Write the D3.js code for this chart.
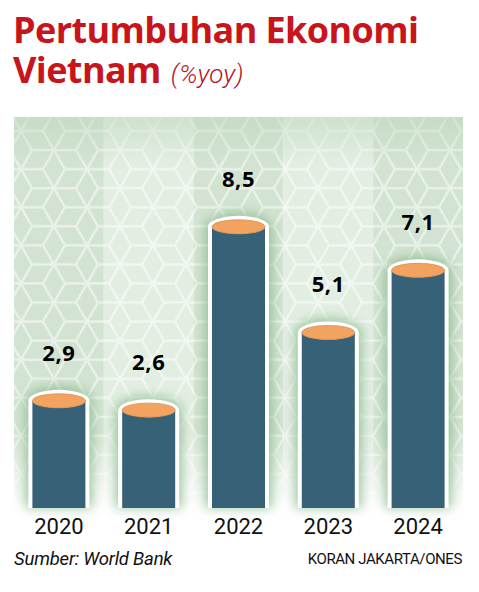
<!DOCTYPE html>
<html>
<head>
<meta charset="utf-8">
<script src="https://cdn.jsdelivr.net/npm/d3@7"></script>
<style>
  html, body { margin: 0; padding: 0; background: #fff; }
  svg { display: block; }
</style>
</head>
<body>
<script>
const years = ['2020', '2021', '2022', '2023', '2024']
const growth = [2.9, 2.6, 8.5, 5.1, 7.1]
const valueLabels = ['2,9', '2,6', '8,5', '5,1', '7,1']

const W = 479, H = 592
const panel = { x0: 14, x1: 463, y0: 117, y1: 508 }

const svg = d3.select('body').append('svg')
  .attr('width', W)
  .attr('height', H)

const defs = svg.append('defs')

// cube (tumbling blocks) pattern
const s = 22
const ph = s * Math.sqrt(3)
const pat = defs.append('pattern')
  .attr('id', 'cubes')
  .attr('patternUnits', 'userSpaceOnUse')
  .attr('x', 10).attr('y', 112)
  .attr('width', 3 * s).attr('height', ph)

function hexPath(cx, cy) {
  const pts = d3.range(6).map(i => {
    const a = Math.PI / 3 * i
    return [cx + s * Math.cos(a), cy - s * Math.sin(a)]
  })
  let p = 'M' + pts.map(d => d.join(',')).join('L') + 'Z'
  // spokes to left, upper-right, lower-right vertices
  ;[3, 1, 5].forEach(i => { p += `M${cx},${cy}L${pts[i][0]},${pts[i][1]}` })
  return p
}
const centers = [[0, 0], [3 * s, 0], [0, ph], [3 * s, ph], [1.5 * s, ph / 2], [1.5 * s, -ph / 2], [1.5 * s, 1.5 * ph]]
pat.append('path')
  .attr('d', centers.map(c => hexPath(c[0], c[1])).join(''))
  .attr('fill', 'none')
  .attr('stroke', '#fff')
  .attr('stroke-opacity', 0.5)
  .attr('stroke-width', 2.4)

// fade of the panel toward the bottom
const fade = defs.append('linearGradient')
  .attr('id', 'fade')
  .attr('gradientUnits', 'userSpaceOnUse')
  .attr('x1', 0).attr('x2', 0).attr('y1', panel.y0).attr('y2', panel.y1)
fade.append('stop').attr('offset', 0).attr('stop-color', '#fff').attr('stop-opacity', 1)
fade.append('stop').attr('offset', 0.8).attr('stop-color', '#fff').attr('stop-opacity', 1)
fade.append('stop').attr('offset', 1).attr('stop-color', '#fff').attr('stop-opacity', 0)
defs.append('mask').attr('id', 'panelMask')
  .append('rect')
  .attr('x', panel.x0).attr('y', panel.y0)
  .attr('width', panel.x1 - panel.x0).attr('height', panel.y1 - panel.y0)
  .attr('fill', 'url(#fade)')

// top shading
const topShade = defs.append('linearGradient')
  .attr('id', 'topShade')
  .attr('x1', 0).attr('x2', 0).attr('y1', 0).attr('y2', 1)
topShade.append('stop').attr('offset', 0).attr('stop-color', '#b9d5b8').attr('stop-opacity', 0.5)
topShade.append('stop').attr('offset', 0.12).attr('stop-color', '#b9d5b8').attr('stop-opacity', 0)

// green glow behind the bars
const glow = defs.append('filter').attr('id', 'glow')
  .attr('x', -0.5).attr('y', -0.2).attr('width', 2).attr('height', 1.4)
glow.append('feGaussianBlur').attr('in', 'SourceGraphic').attr('stdDeviation', 6)

const x = d3.scaleBand()
  .domain(years)
  .range([panel.x0, panel.x1])
  .paddingInner(0).paddingOuter(0)

// zero sits a bit above the bar foot, bars run down to the panel floor
const y = d3.scaleLinear()
  .domain([-0.55, 9])
  .range([panel.y1, panel.y1 - 9.55 * 31.07])

// panel
const bg = svg.append('g').attr('mask', 'url(#panelMask)')
bg.selectAll('rect.band')
  .data(years)
  .join('rect')
  .attr('class', 'band')
  .attr('x', d => x(d))
  .attr('y', panel.y0)
  .attr('width', x.bandwidth())
  .attr('height', panel.y1 - panel.y0)
  .attr('fill', (d, i) => i % 2 ? '#e3eee2' : '#d3e3d2')
bg.append('rect')
  .attr('x', panel.x0).attr('y', panel.y0)
  .attr('width', panel.x1 - panel.x0).attr('height', panel.y1 - panel.y0)
  .attr('fill', 'url(#cubes)')
bg.append('rect')
  .attr('x', panel.x0).attr('y', panel.y0)
  .attr('width', panel.x1 - panel.x0).attr('height', panel.y1 - panel.y0)
  .attr('fill', 'url(#topShade)')

const rx = 26.5, ry = 7, rim = 4

function cylOutline(d, i, pad) {
  const cx = x(years[i]) + x.bandwidth() / 2
  const top = y(d)
  const r = rx + pad
  return `M${cx - r},${panel.y1}L${cx - r},${top}A${r},${ry + pad} 0 0 1 ${cx + r},${top}L${cx + r},${panel.y1}Z`
}

const bars = svg.append('g')

bars.selectAll('path.glow')
  .data(growth)
  .join('path')
  .attr('class', 'glow')
  .attr('d', (d, i) => cylOutline(d, i, rim + 3))
  .attr('fill', '#7fb485')
  .attr('opacity', 0.75)
  .attr('filter', 'url(#glow)')

bars.selectAll('path.rim')
  .data(growth)
  .join('path')
  .attr('class', 'rim')
  .attr('d', (d, i) => cylOutline(d, i, rim))
  .attr('fill', '#fff')

bars.selectAll('path.body')
  .data(growth)
  .join('path')
  .attr('class', 'body')
  .attr('d', (d, i) => {
    const cx = x(years[i]) + x.bandwidth() / 2
    const top = y(d)
    return `M${cx - rx},${panel.y1}L${cx - rx},${top}A${rx},${ry} 0 0 0 ${cx + rx},${top}L${cx + rx},${panel.y1}Z`
  })
  .attr('fill', '#376176')

bars.selectAll('ellipse.cap')
  .data(growth)
  .join('ellipse')
  .attr('class', 'cap')
  .attr('cx', (d, i) => x(years[i]) + x.bandwidth() / 2)
  .attr('cy', d => y(d))
  .attr('rx', rx)
  .attr('ry', ry)
  .attr('fill', '#f2a35f')
  .attr('stroke', '#d98c4c')
  .attr('stroke-width', 0.8)

// value labels
svg.append('g').selectAll('text')
  .data(growth)
  .join('text')
  .attr('x', (d, i) => x(years[i]) + x.bandwidth() / 2)
  .attr('y', d => y(d) - 40)
  .attr('text-anchor', 'middle')
  .attr('font-family', 'Open Sans')
  .attr('font-weight', 700)
  .attr('font-size', 22)
  .attr('letter-spacing', 0.6)
  .attr('fill', '#000')
  .text((d, i) => valueLabels[i])

// year axis
const axis = svg.append('g')
  .attr('transform', `translate(0,${panel.y1})`)
  .call(d3.axisBottom(x).tickSize(0).tickPadding(26))
axis.select('.domain').remove()
axis.selectAll('text')
  .attr('font-family', 'Roboto')
  .attr('font-size', 22)
  .attr('fill', '#111')
  .attr('dy', 0)

// title
svg.append('text')
  .attr('x', 13).attr('y', 43)
  .attr('font-family', 'Open Sans')
  .attr('font-weight', 700)
  .attr('font-size', 36)
  .attr('letter-spacing', -0.6)
  .attr('fill', '#c8141b')
  .text('Pertumbuhan Ekonomi')

const t2 = svg.append('text')
  .attr('x', 13).attr('y', 83)
  .attr('font-family', 'Open Sans')
  .attr('fill', '#c8141b')
t2.append('tspan')
  .attr('font-weight', 700)
  .attr('font-size', 36)
  .attr('letter-spacing', -0.6)
  .text('Vietnam')
t2.append('tspan')
  .attr('dx', 10)
  .attr('font-style', 'italic')
  .attr('font-size', 26)
  .attr('font-family', 'Roboto')
  .attr('font-weight', 300)
  .attr('fill', '#b8141b')
  .text('(%yoy)')

// footer
svg.append('text')
  .attr('x', 14).attr('y', 565)
  .attr('font-family', 'Roboto')
  .attr('font-style', 'italic')
  .attr('font-size', 18.5)
  .attr('letter-spacing', -0.2)
  .attr('fill', '#111')
  .text('Sumber: World Bank')

svg.append('text')
  .attr('x', 462).attr('y', 564)
  .attr('text-anchor', 'end')
  .attr('font-family', 'Roboto')
  .attr('font-size', 15)
  .attr('letter-spacing', -0.4)
  .attr('fill', '#111')
  .text('KORAN JAKARTA/ONES')
</script>
</body>
</html>
